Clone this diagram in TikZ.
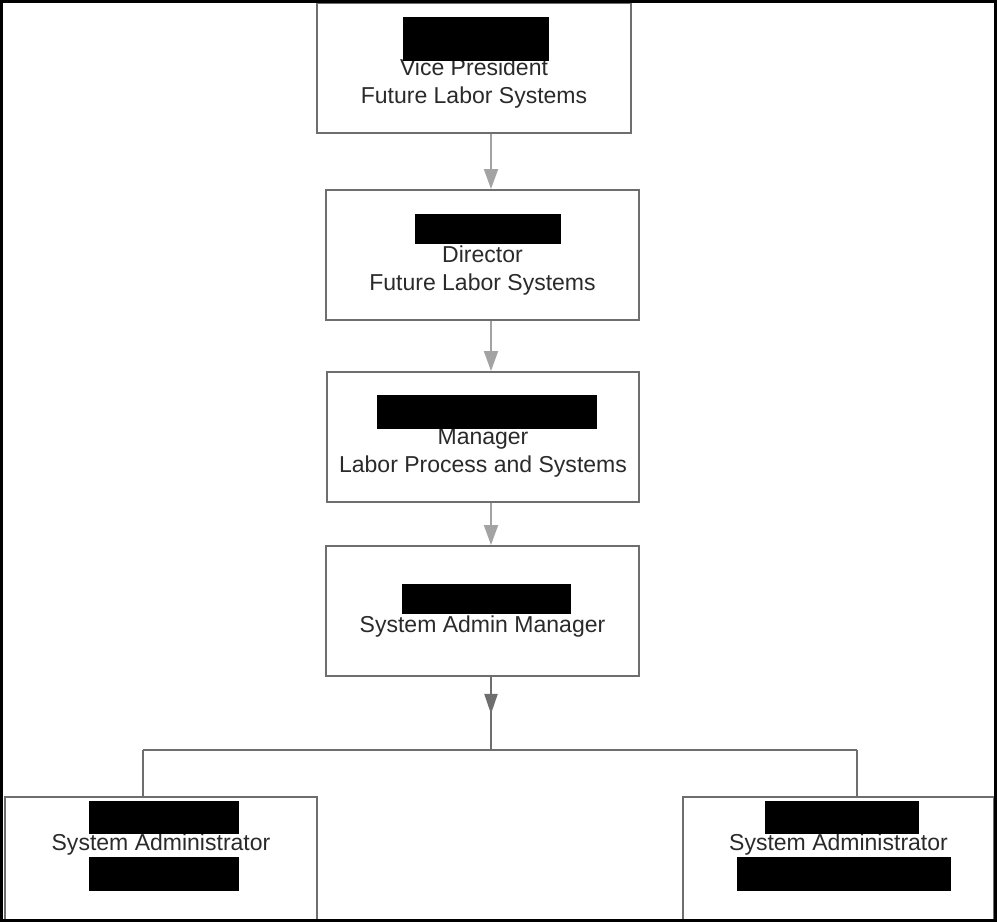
\documentclass[tikz,border=0pt]{standalone}
\usepackage{fontspec}
\setmainfont{Liberation Sans}
\usetikzlibrary{arrows.meta}

\definecolor{boxgrey}{HTML}{6E6E6E}
\definecolor{arrgrey}{HTML}{A3A3A3}
\definecolor{txtgrey}{HTML}{2A2A2A}

\newcommand{\pxscl}{0.02}
\newcommand{\pixl}[1]{#1*\pxscl}
\newcommand{\pn}{\node[draw=boxgrey, line width=0.04cm, minimum width=6.26cm, minimum height=2.6cm, align=center, text=txtgrey, font=\fontsize{13.1}{15.9}\selectfont]}
\newcommand{\Pn}{\pn[minimum width=6.24cm, minimum height=2.42cm]}
\newcommand{\redact}[4]{\fill[black] (\pixl{#1}, -\pixl{#2}) rectangle (\pixl{#3}, -\pixl{#4});}

\begin{document}
\begin{tikzpicture}
            \useasboundingbox (0,0) rectangle (\pixl{997}, -\pixl{922});

            \pn[minimum width=6.28cm] (vp) at (\pixl{474}, -\pixl{68}) {\strut\\Vice President\\Future Labor Systems};
            \pn (dir) at (\pixl{482.5}, -\pixl{255}) {\strut\\Director\\Future Labor Systems};
            \pn (mgr) at (\pixl{483}, -\pixl{437}) {\strut\\Manager\\Labor Process and Systems};
            \pn (sam) at (\pixl{482.5}, -\pixl{611}) {\strut\\System Admin Manager};
            \Pn (sa1) at (\pixl{161}, -\pixl{858.5}) {\strut\\System Administrator\\\strut\\\strut};
            \Pn (sa2) at (\pixl{838.5}, -\pixl{858.5}) {\strut\\System Administrator\\\strut\\\strut};

            % redacted names
            \redact{403}{17}{549}{61}
            \redact{415}{214}{561}{244}
            \redact{377}{395}{597}{429}
            \redact{402}{584}{571}{614}
            \redact{89}{801}{239}{834}
            \redact{89}{857}{239}{891}
            \redact{765}{801}{919}{834}
            \redact{737}{857}{951}{891}

            \coordinate (ax) at (\pixl{491}, 0);
            \coordinate (jn) at (\pixl{491}, -\pixl{750});
            \coordinate (jl) at (\pixl{143}, -\pixl{750});
            \coordinate (jr) at (\pixl{857}, -\pixl{750});

            \foreach \a/\b in {vp/dir, dir/mgr, mgr/sam}
                \draw[arrgrey, line width=0.04cm, -{Triangle[width=0.28cm, length=0.4cm]}]
                    (ax |- \a.south) -- (ax |- \b.north);

            \draw[boxgrey, line width=0.04cm]
                (ax |- sam.south) -- (jn)
                (jl) -- (jr)
                (jl) -- (jl |- sa1.north)
                (jr) -- (jr |- sa2.north)
                ;
            \draw[boxgrey, line width=0.04cm, -{Triangle[width=0.26cm, length=0.4cm]}]
                (ax |- sam.south) -- ++(0, -\pixl{37});

            % outer frame
            \draw[black, line width=0.06cm]
                (\pixl{1.5}, -\pixl{1.5}) rectangle (\pixl{995.5}, -\pixl{920.5});
        \end{tikzpicture}
\end{document}
